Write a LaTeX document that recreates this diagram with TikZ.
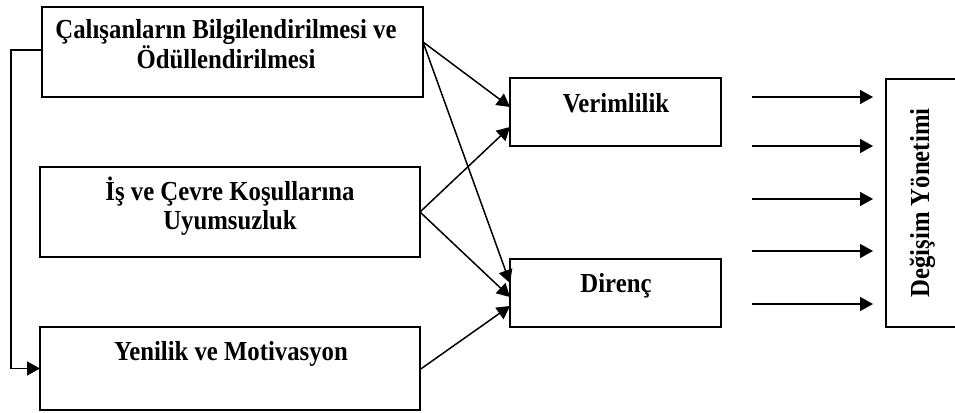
\documentclass[tikz,border=0pt]{standalone}
\usepackage{fontspec}
\setmainfont{Liberation Serif}[FakeStretch=0.9]
\usetikzlibrary{arrows.meta}
\begin{document}
\begin{tikzpicture}[x=1pt,y=-1pt,
  box/.style={draw, line width=1.7pt, rectangle, inner sep=0pt, outer sep=0pt, anchor=north west},
  txt/.style={font=\fontsize{27.5}{32}\selectfont\bfseries, inner sep=0pt, anchor=base},
  arr/.style={line width=1.5pt, -{Triangle[length=13pt,width=14pt]}}]
\clip (0,0) rectangle (955,412);

% boxes
\node[box, minimum width=381pt, minimum height=90pt] (b1) at (42,7) {};
\node[box, minimum width=380pt, minimum height=90pt] (b2) at (40,167) {};
\node[box, minimum width=380pt, minimum height=83pt] (b3) at (40,327) {};
\node[box, minimum width=211pt, minimum height=68pt] (ver) at (510,78) {};
\node[box, minimum width=211pt, minimum height=68pt] (dir) at (510,259) {};
\node[box, minimum width=90pt, minimum height=248pt] (dy) at (886,79) {};

% labels
\node[txt] (t1a) at (226,39) {Çalışanların Bilgilendirilmesi ve};
\node[txt] (t1b) at (226,69) {Ödüllendirilmesi};
\node[txt] (t2a) at (230,200) {İş ve Çevre Koşullarına};
\node[txt] (t2b) at (230,229) {Uyumsuzluk};
\node[txt] (t3) at (231,360) {Yenilik ve Motivasyon};
\node[txt] (tv) at (616,112) {Verimlilik};
\node[txt] (td) at (616,292) {Direnç};
\node[txt, rotate=90] (tdy) at (929,203) {Değişim Yönetimi};

% feedback line on the left
\coordinate (lc) at (11,0);
\draw[arr] ([yshift=2pt]b1.west) -| (lc |- b3.west) -- (b3.west);

% influences
\draw[arr] ([yshift=10pt]b1.east) -- ([yshift=5pt]ver.west);
\draw[arr] ([yshift=10pt]b1.east) -- ([yshift=10pt]dir.west);
\draw[arr] (b2.east) -- ([yshift=-15pt]ver.west);
\draw[arr] (b2.east) -- ([yshift=-4pt]dir.west);
\draw[arr] ([yshift=-1pt]b3.east) -- ([yshift=-13pt]dir.west);

% outputs towards change management
\foreach \i/\yy in {1/97,2/146,3/199,4/251,5/304}{
  \coordinate (s\i) at (752,\yy);
  \coordinate (e\i) at (873,\yy);
  \draw[arr] (s\i) -- (e\i);
}
\end{tikzpicture}
\end{document}
